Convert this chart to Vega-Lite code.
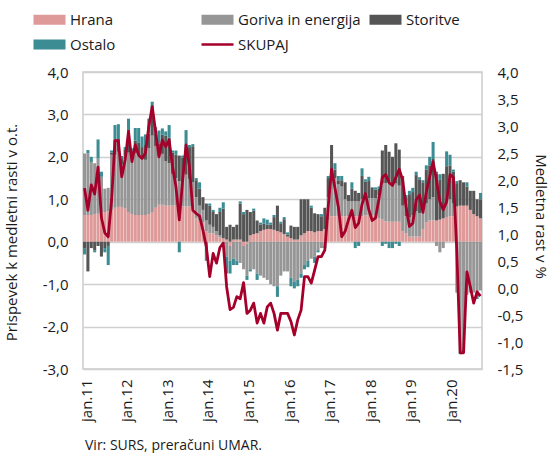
{
"$schema": "https://vega.github.io/schema/vega-lite/v6.json",
"width": 399, "height": 297,
"autosize": {"type": "none"},
"padding": {"left": 83, "top": 72, "right": 69, "bottom": 84},
"background": "white",
"title": {"text": "Vir: SURS, preračuni UMAR.", "orient": "bottom", "anchor": "start", "frame": "group", "font": "Open Sans", "fontSize": 14, "fontWeight": "normal", "color": "#1a1a1a", "offset": 18, "dx": 2},
"config": {
  "font": "Open Sans",
  "view": {"stroke": "#cccccc", "strokeWidth": 1.5},
  "axis": {"labelFont": "Open Sans", "labelFontSize": 15, "labelColor": "#1a1a1a", "titleFont": "Open Sans", "titleFontSize": 15, "titleFontWeight": "normal", "titleColor": "#1a1a1a", "domain": false, "ticks": false},
  "legend": {"orient": "none", "legendX": -41, "legendY": -60, "columns": 3, "gridAlign": "all", "columnPadding": 3, "rowPadding": 9, "symbolType": "M-1,-0.31H1V0.31H-1Z", "symbolSize": 1024, "symbolStrokeWidth": 0, "labelFont": "Open Sans", "labelFontSize": 15, "labelOffset": 13, "labelColor": "#1a1a1a", "labelLimit": 250}
},
"data": {"values": [
{"m":"2011-01","Hrana":0.63,"Goriva in energija":1.45,"Storitve":-0.15,"Ostalo":-0.15,"SKUPAJ":1.85},
{"m":"2011-02","Hrana":0.63,"Goriva in energija":1.45,"Storitve":-0.70,"Ostalo":0.08,"SKUPAJ":1.44},
{"m":"2011-03","Hrana":0.63,"Goriva in energija":1.25,"Storitve":-0.15,"Ostalo":0.12,"SKUPAJ":1.91},
{"m":"2011-04","Hrana":0.65,"Goriva in energija":1.20,"Storitve":-0.20,"Ostalo":-0.05,"SKUPAJ":1.74},
{"m":"2011-05","Hrana":0.66,"Goriva in energija":1.30,"Storitve":-0.10,"Ostalo":0.45,"SKUPAJ":2.24},
{"m":"2011-06","Hrana":0.68,"Goriva in energija":0.85,"Storitve":-0.35,"Ostalo":0.12,"SKUPAJ":1.30},
{"m":"2011-07","Hrana":0.70,"Goriva in energija":0.55,"Storitve":-0.15,"Ostalo":-0.10,"SKUPAJ":1.02},
{"m":"2011-08","Hrana":0.72,"Goriva in energija":0.55,"Storitve":-0.10,"Ostalo":-0.45,"SKUPAJ":0.95},
{"m":"2011-09","Hrana":0.75,"Goriva in energija":1.30,"Storitve":0.05,"Ostalo":0.05,"SKUPAJ":1.63},
{"m":"2011-10","Hrana":0.80,"Goriva in energija":1.25,"Storitve":0.35,"Ostalo":0.35,"SKUPAJ":2.73},
{"m":"2011-11","Hrana":0.82,"Goriva in energija":1.30,"Storitve":0.30,"Ostalo":0.35,"SKUPAJ":2.73},
{"m":"2011-12","Hrana":0.82,"Goriva in energija":1.00,"Storitve":0.15,"Ostalo":0.05,"SKUPAJ":2.06},
{"m":"2012-01","Hrana":0.78,"Goriva in energija":1.25,"Storitve":0.15,"Ostalo":0.05,"SKUPAJ":2.37},
{"m":"2012-02","Hrana":0.70,"Goriva in energija":1.40,"Storitve":0.40,"Ostalo":0.40,"SKUPAJ":2.90},
{"m":"2012-03","Hrana":0.65,"Goriva in energija":1.30,"Storitve":0.20,"Ostalo":0.05,"SKUPAJ":2.34},
{"m":"2012-04","Hrana":0.63,"Goriva in energija":1.45,"Storitve":0.30,"Ostalo":0.30,"SKUPAJ":2.65},
{"m":"2012-05","Hrana":0.63,"Goriva in energija":1.40,"Storitve":0.30,"Ostalo":0.35,"SKUPAJ":2.46},
{"m":"2012-06","Hrana":0.63,"Goriva in energija":1.35,"Storitve":0.25,"Ostalo":0.25,"SKUPAJ":2.40},
{"m":"2012-07","Hrana":0.63,"Goriva in energija":1.30,"Storitve":0.35,"Ostalo":0.25,"SKUPAJ":2.50},
{"m":"2012-08","Hrana":0.65,"Goriva in energija":1.55,"Storitve":0.35,"Ostalo":0.35,"SKUPAJ":2.99},
{"m":"2012-09","Hrana":0.70,"Goriva in energija":1.80,"Storitve":0.45,"Ostalo":0.35,"SKUPAJ":3.36},
{"m":"2012-10","Hrana":0.80,"Goriva in energija":1.45,"Storitve":0.30,"Ostalo":0.15,"SKUPAJ":2.90},
{"m":"2012-11","Hrana":0.87,"Goriva in energija":1.15,"Storitve":0.30,"Ostalo":0.30,"SKUPAJ":2.43},
{"m":"2012-12","Hrana":0.87,"Goriva in energija":1.20,"Storitve":0.45,"Ostalo":0.15,"SKUPAJ":2.74},
{"m":"2013-01","Hrana":0.85,"Goriva in energija":1.05,"Storitve":0.60,"Ostalo":0.10,"SKUPAJ":2.62},
{"m":"2013-02","Hrana":0.85,"Goriva in energija":1.00,"Storitve":0.60,"Ostalo":0.30,"SKUPAJ":2.74},
{"m":"2013-03","Hrana":0.85,"Goriva in energija":0.75,"Storitve":0.50,"Ostalo":0.05,"SKUPAJ":2.25},
{"m":"2013-04","Hrana":0.85,"Goriva in energija":0.65,"Storitve":0.55,"Ostalo":0.10,"SKUPAJ":1.88},
{"m":"2013-05","Hrana":0.83,"Goriva in energija":0.60,"Storitve":0.60,"Ostalo":-0.25,"SKUPAJ":1.26},
{"m":"2013-06","Hrana":0.83,"Goriva in energija":0.60,"Storitve":0.55,"Ostalo":0.05,"SKUPAJ":2.00},
{"m":"2013-07","Hrana":0.83,"Goriva in energija":0.75,"Storitve":0.60,"Ostalo":0.45,"SKUPAJ":2.65},
{"m":"2013-08","Hrana":0.83,"Goriva in energija":0.65,"Storitve":0.75,"Ostalo":0.05,"SKUPAJ":2.25},
{"m":"2013-09","Hrana":0.80,"Goriva in energija":0.60,"Storitve":0.85,"Ostalo":0.05,"SKUPAJ":1.44},
{"m":"2013-10","Hrana":0.55,"Goriva in energija":0.50,"Storitve":0.40,"Ostalo":0.05,"SKUPAJ":1.38},
{"m":"2013-11","Hrana":0.50,"Goriva in energija":0.35,"Storitve":0.40,"Ostalo":0.15,"SKUPAJ":1.33},
{"m":"2013-12","Hrana":0.45,"Goriva in energija":0.30,"Storitve":0.30,"Ostalo":0.00,"SKUPAJ":1.07},
{"m":"2014-01","Hrana":0.25,"Goriva in energija":0.25,"Storitve":0.40,"Ostalo":-0.45,"SKUPAJ":0.76},
{"m":"2014-02","Hrana":0.20,"Goriva in energija":0.20,"Storitve":0.45,"Ostalo":0.05,"SKUPAJ":0.21},
{"m":"2014-03","Hrana":0.20,"Goriva in energija":0.15,"Storitve":0.35,"Ostalo":0.05,"SKUPAJ":0.64},
{"m":"2014-04","Hrana":0.15,"Goriva in energija":0.10,"Storitve":0.40,"Ostalo":0.00,"SKUPAJ":0.46},
{"m":"2014-05","Hrana":0.10,"Goriva in energija":0.05,"Storitve":0.55,"Ostalo":0.10,"SKUPAJ":0.75},
{"m":"2014-06","Hrana":0.08,"Goriva in energija":-0.05,"Storitve":0.70,"Ostalo":0.15,"SKUPAJ":0.83},
{"m":"2014-07","Hrana":0.05,"Goriva in energija":-0.35,"Storitve":0.30,"Ostalo":-0.40,"SKUPAJ":0.02},
{"m":"2014-08","Hrana":-0.10,"Goriva in energija":-0.35,"Storitve":0.40,"Ostalo":-0.30,"SKUPAJ":-0.40},
{"m":"2014-09","Hrana":0.05,"Goriva in energija":-0.40,"Storitve":0.30,"Ostalo":-0.15,"SKUPAJ":-0.36},
{"m":"2014-10","Hrana":0.05,"Goriva in energija":-0.45,"Storitve":0.35,"Ostalo":-0.10,"SKUPAJ":-0.16},
{"m":"2014-11","Hrana":0.05,"Goriva in energija":-0.50,"Storitve":0.85,"Ostalo":0.05,"SKUPAJ":-0.20},
{"m":"2014-12","Hrana":-0.10,"Goriva in energija":-0.55,"Storitve":0.65,"Ostalo":0.05,"SKUPAJ":0.10},
{"m":"2015-01","Hrana":-0.05,"Goriva in energija":-0.75,"Storitve":0.75,"Ostalo":-0.10,"SKUPAJ":-0.47},
{"m":"2015-02","Hrana":0.15,"Goriva in energija":-0.65,"Storitve":0.55,"Ostalo":-0.05,"SKUPAJ":-0.41},
{"m":"2015-03","Hrana":0.18,"Goriva in energija":-0.65,"Storitve":0.55,"Ostalo":0.05,"SKUPAJ":-0.28},
{"m":"2015-04","Hrana":0.20,"Goriva in energija":-0.75,"Storitve":0.30,"Ostalo":-0.15,"SKUPAJ":-0.65},
{"m":"2015-05","Hrana":0.25,"Goriva in energija":-0.80,"Storitve":0.15,"Ostalo":0.05,"SKUPAJ":-0.47},
{"m":"2015-06","Hrana":0.28,"Goriva in energija":-0.85,"Storitve":0.15,"Ostalo":0.12,"SKUPAJ":-0.65},
{"m":"2015-07","Hrana":0.30,"Goriva in energija":-0.90,"Storitve":0.10,"Ostalo":0.12,"SKUPAJ":-0.35},
{"m":"2015-08","Hrana":0.30,"Goriva in energija":-1.00,"Storitve":0.10,"Ostalo":0.05,"SKUPAJ":-0.28},
{"m":"2015-09","Hrana":0.28,"Goriva in energija":-1.05,"Storitve":0.30,"Ostalo":0.05,"SKUPAJ":-0.47},
{"m":"2015-10","Hrana":0.25,"Goriva in energija":-1.05,"Storitve":0.60,"Ostalo":-0.25,"SKUPAJ":-0.78},
{"m":"2015-11","Hrana":0.22,"Goriva in energija":-0.80,"Storitve":0.20,"Ostalo":0.05,"SKUPAJ":-0.47},
{"m":"2015-12","Hrana":0.18,"Goriva in energija":-0.70,"Storitve":0.35,"Ostalo":0.05,"SKUPAJ":-0.47},
{"m":"2016-01","Hrana":0.12,"Goriva in energija":-0.70,"Storitve":0.05,"Ostalo":0.05,"SKUPAJ":-0.47},
{"m":"2016-02","Hrana":0.08,"Goriva in energija":-0.85,"Storitve":0.30,"Ostalo":-0.20,"SKUPAJ":-0.62},
{"m":"2016-03","Hrana":0.05,"Goriva in energija":-0.95,"Storitve":0.30,"Ostalo":-0.15,"SKUPAJ":-0.87},
{"m":"2016-04","Hrana":0.05,"Goriva in energija":-0.90,"Storitve":0.30,"Ostalo":-0.15,"SKUPAJ":-0.59},
{"m":"2016-05","Hrana":0.15,"Goriva in energija":-0.75,"Storitve":0.85,"Ostalo":-0.10,"SKUPAJ":-0.41},
{"m":"2016-06","Hrana":0.20,"Goriva in energija":-0.55,"Storitve":0.80,"Ostalo":-0.10,"SKUPAJ":0.21},
{"m":"2016-07","Hrana":0.25,"Goriva in energija":-0.45,"Storitve":0.75,"Ostalo":-0.15,"SKUPAJ":0.21},
{"m":"2016-08","Hrana":0.25,"Goriva in energija":-0.40,"Storitve":0.55,"Ostalo":0.05,"SKUPAJ":0.09},
{"m":"2016-09","Hrana":0.22,"Goriva in energija":-0.35,"Storitve":0.45,"Ostalo":-0.15,"SKUPAJ":0.33},
{"m":"2016-10","Hrana":0.25,"Goriva in energija":-0.20,"Storitve":0.40,"Ostalo":-0.05,"SKUPAJ":0.58},
{"m":"2016-11","Hrana":0.25,"Goriva in energija":-0.15,"Storitve":0.35,"Ostalo":0.05,"SKUPAJ":0.58},
{"m":"2016-12","Hrana":0.30,"Goriva in energija":-0.10,"Storitve":0.50,"Ostalo":-0.05,"SKUPAJ":0.70},
{"m":"2017-01","Hrana":0.50,"Goriva in energija":0.55,"Storitve":0.45,"Ostalo":0.05,"SKUPAJ":1.50},
{"m":"2017-02","Hrana":0.60,"Goriva in energija":1.00,"Storitve":0.68,"Ostalo":0.00,"SKUPAJ":2.20},
{"m":"2017-03","Hrana":0.60,"Goriva in energija":0.90,"Storitve":0.20,"Ostalo":0.15,"SKUPAJ":1.85},
{"m":"2017-04","Hrana":0.60,"Goriva in energija":0.75,"Storitve":0.10,"Ostalo":0.10,"SKUPAJ":1.50},
{"m":"2017-05","Hrana":0.60,"Goriva in energija":0.70,"Storitve":0.15,"Ostalo":0.10,"SKUPAJ":0.95},
{"m":"2017-06","Hrana":0.60,"Goriva in energija":0.40,"Storitve":0.40,"Ostalo":0.00,"SKUPAJ":1.05},
{"m":"2017-07","Hrana":0.60,"Goriva in energija":0.35,"Storitve":0.15,"Ostalo":0.00,"SKUPAJ":1.26},
{"m":"2017-08","Hrana":0.60,"Goriva in energija":0.35,"Storitve":0.30,"Ostalo":0.15,"SKUPAJ":1.44},
{"m":"2017-09","Hrana":0.60,"Goriva in energija":0.35,"Storitve":0.25,"Ostalo":-0.15,"SKUPAJ":1.12},
{"m":"2017-10","Hrana":0.60,"Goriva in energija":0.35,"Storitve":0.20,"Ostalo":-0.10,"SKUPAJ":1.20},
{"m":"2017-11","Hrana":0.60,"Goriva in energija":0.40,"Storitve":0.55,"Ostalo":0.18,"SKUPAJ":1.55},
{"m":"2017-12","Hrana":0.62,"Goriva in energija":0.40,"Storitve":0.40,"Ostalo":0.05,"SKUPAJ":1.75},
{"m":"2018-01","Hrana":0.63,"Goriva in energija":0.40,"Storitve":0.40,"Ostalo":0.10,"SKUPAJ":1.45},
{"m":"2018-02","Hrana":0.63,"Goriva in energija":0.40,"Storitve":0.25,"Ostalo":0.00,"SKUPAJ":1.25},
{"m":"2018-03","Hrana":0.63,"Goriva in energija":0.40,"Storitve":0.20,"Ostalo":0.05,"SKUPAJ":1.30},
{"m":"2018-04","Hrana":0.55,"Goriva in energija":0.55,"Storitve":0.15,"Ostalo":0.05,"SKUPAJ":1.65},
{"m":"2018-05","Hrana":0.52,"Goriva in energija":0.85,"Storitve":0.78,"Ostalo":-0.10,"SKUPAJ":2.05},
{"m":"2018-06","Hrana":0.48,"Goriva in energija":0.90,"Storitve":0.90,"Ostalo":-0.05,"SKUPAJ":2.10},
{"m":"2018-07","Hrana":0.47,"Goriva in energija":0.95,"Storitve":0.70,"Ostalo":-0.15,"SKUPAJ":1.95},
{"m":"2018-08","Hrana":0.47,"Goriva in energija":0.85,"Storitve":0.68,"Ostalo":-0.15,"SKUPAJ":1.90},
{"m":"2018-09","Hrana":0.47,"Goriva in energija":0.90,"Storitve":0.95,"Ostalo":-0.05,"SKUPAJ":2.05},
{"m":"2018-10","Hrana":0.47,"Goriva in energija":0.85,"Storitve":0.85,"Ostalo":-0.10,"SKUPAJ":2.20},
{"m":"2018-11","Hrana":0.25,"Goriva in energija":0.60,"Storitve":0.70,"Ostalo":0.00,"SKUPAJ":2.00},
{"m":"2018-12","Hrana":0.20,"Goriva in energija":0.40,"Storitve":0.45,"Ostalo":0.05,"SKUPAJ":1.51},
{"m":"2019-01","Hrana":0.12,"Goriva in energija":0.45,"Storitve":0.55,"Ostalo":0.08,"SKUPAJ":1.14},
{"m":"2019-02","Hrana":0.12,"Goriva in energija":0.50,"Storitve":0.55,"Ostalo":0.10,"SKUPAJ":1.20},
{"m":"2019-03","Hrana":0.12,"Goriva in energija":0.60,"Storitve":0.85,"Ostalo":0.08,"SKUPAJ":1.63},
{"m":"2019-04","Hrana":0.12,"Goriva in energija":0.55,"Storitve":0.80,"Ostalo":0.05,"SKUPAJ":1.72},
{"m":"2019-05","Hrana":0.30,"Goriva in energija":0.45,"Storitve":0.65,"Ostalo":0.05,"SKUPAJ":1.40},
{"m":"2019-06","Hrana":0.45,"Goriva in energija":0.45,"Storitve":0.80,"Ostalo":0.10,"SKUPAJ":1.78},
{"m":"2019-07","Hrana":0.50,"Goriva in energija":0.50,"Storitve":0.80,"Ostalo":0.20,"SKUPAJ":2.06},
{"m":"2019-08","Hrana":0.50,"Goriva in energija":0.55,"Storitve":0.90,"Ostalo":0.40,"SKUPAJ":2.34},
{"m":"2019-09","Hrana":0.50,"Goriva in energija":-0.10,"Storitve":1.10,"Ostalo":0.05,"SKUPAJ":2.00},
{"m":"2019-10","Hrana":0.52,"Goriva in energija":-0.25,"Storitve":0.95,"Ostalo":0.12,"SKUPAJ":1.60},
{"m":"2019-11","Hrana":0.55,"Goriva in energija":-0.15,"Storitve":1.05,"Ostalo":0.00,"SKUPAJ":1.45},
{"m":"2019-12","Hrana":0.58,"Goriva in energija":0.35,"Storitve":0.85,"Ostalo":0.35,"SKUPAJ":1.60},
{"m":"2020-01","Hrana":0.60,"Goriva in energija":0.40,"Storitve":0.80,"Ostalo":0.25,"SKUPAJ":2.10},
{"m":"2020-02","Hrana":0.60,"Goriva in energija":0.30,"Storitve":0.75,"Ostalo":0.05,"SKUPAJ":2.05},
{"m":"2020-03","Hrana":0.83,"Goriva in energija":-1.20,"Storitve":0.55,"Ostalo":0.05,"SKUPAJ":0.70},
{"m":"2020-04","Hrana":0.85,"Goriva in energija":-2.60,"Storitve":0.60,"Ostalo":-0.05,"SKUPAJ":-1.20},
{"m":"2020-05","Hrana":0.85,"Goriva in energija":-2.55,"Storitve":0.55,"Ostalo":-0.05,"SKUPAJ":-1.20},
{"m":"2020-06","Hrana":0.85,"Goriva in energija":-1.25,"Storitve":0.45,"Ostalo":0.10,"SKUPAJ":0.30},
{"m":"2020-07","Hrana":0.75,"Goriva in energija":-1.20,"Storitve":0.45,"Ostalo":0.00,"SKUPAJ":0.02},
{"m":"2020-08","Hrana":0.65,"Goriva in energija":-1.20,"Storitve":0.55,"Ostalo":0.00,"SKUPAJ":-0.28},
{"m":"2020-09","Hrana":0.60,"Goriva in energija":-1.20,"Storitve":0.40,"Ostalo":-0.15,"SKUPAJ":-0.07},
{"m":"2020-10","Hrana":0.55,"Goriva in energija":-1.15,"Storitve":0.45,"Ostalo":0.15,"SKUPAJ":-0.15}
]},
"layer": [
  {
    "transform": [
      {"fold": ["Hrana", "Goriva in energija", "Storitve", "Ostalo"], "as": ["cat", "v"]},
      {"calculate": "indexof(['Hrana','Goriva in energija','Storitve','Ostalo'], datum.cat)", "as": "ord"}
    ],
    "mark": {"type": "bar"},
    "encoding": {
      "x": {"field": "m", "type": "ordinal", "scale": {"paddingInner": 0.1, "paddingOuter": 0},
            "axis": {"title": null, "grid": false, "labelAngle": -90, "labelAlign": "right", "labelBaseline": "middle", "labelPadding": 10, "labelOverlap": false, "labelOffset": 2, "labelExpr": "slice(datum.value,5)=='01' ? 'jan.'+slice(datum.value,2,4) : ''"}},
      "y": {"field": "v", "type": "quantitative", "stack": "zero", "scale": {"domain": [-3, 4], "nice": false, "zero": false},
            "axis": {"orient": "left", "values": [-3, -2, -1, 0, 1, 2, 3, 4], "grid": true, "gridColor": "#d0d0d0", "gridWidth": 1.5, "labelPadding": 15, "title": "Prispevek k medletni rasti v o.t.", "titlePadding": 23, "titleY": 160, "labelExpr": "replace(replace(format(datum.value,'.1f'),'.',','),'−','-')"}},
      "order": {"field": "ord", "type": "quantitative", "sort": "ascending"},
      "color": {"field": "cat", "type": "nominal",
                "scale": {"domain": ["Hrana", "Ostalo", "Goriva in energija", "SKUPAJ", "Storitve"], "range": ["#dd9a98", "#3c8c93", "#969696", "#a5002a", "#555555"]},
                "legend": {"title": null, "encode": {"symbols": {"update": {
                   "shape": {"signal": "datum.value === 'SKUPAJ' ? 'stroke' : 'M-1,-0.31H1V0.31H-1Z'"},
                   "fill": {"signal": "datum.value === 'SKUPAJ' ? 'transparent' : scale('color', datum.value)"},
                   "stroke": {"signal": "datum.value === 'SKUPAJ' ? '#a5002a' : 'transparent'"},
                   "strokeWidth": {"signal": "datum.value === 'SKUPAJ' ? 2.5 : 0"},
                   "opacity": {"value": 1}}}}}}
    }
  },
  {
    "mark": {"type": "line", "strokeWidth": 2.8, "strokeJoin": "round"},
    "encoding": {
      "x": {"field": "m", "type": "ordinal"},
      "y": {"field": "SKUPAJ", "type": "quantitative", "scale": {"domain": [-1.5, 4], "nice": false, "zero": false},
            "axis": {"orient": "right", "values": [-1.5, -1, -0.5, 0, 0.5, 1, 1.5, 2, 2.5, 3, 3.5, 4], "grid": false, "labelPadding": 15, "title": "Medletna rast v %", "titlePadding": 10, "titleY": 144, "labelExpr": "replace(replace(format(datum.value,'.1f'),'.',','),'−','-')"}},
      "color": {"datum": "SKUPAJ"}
    }
  }
],
"resolve": {"scale": {"y": "independent"}, "axis": {"y": "independent"}}
}
